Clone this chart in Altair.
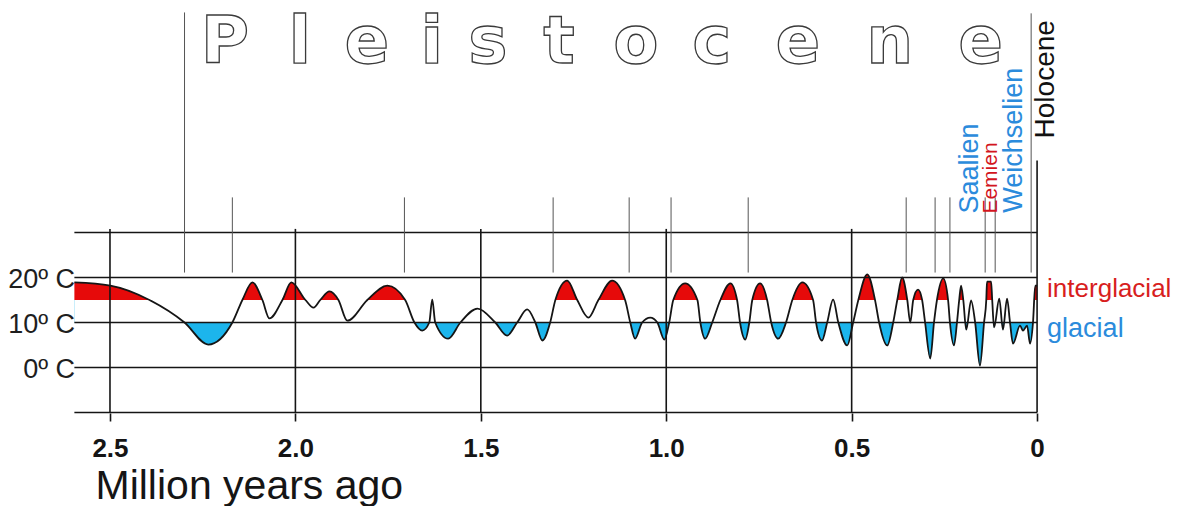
import altair as alt
import pandas as pd

# ---- data (age in million years, temperature in deg C) ----
ages = [2.596, 2.499, 2.391, 2.299, 2.235, 2.170, 2.143, 2.116, 2.089, 2.070,
        2.035, 2.011, 1.973, 1.951, 1.933, 1.908, 1.884, 1.860, 1.806, 1.752,
        1.704, 1.679, 1.658, 1.639, 1.631, 1.623, 1.588, 1.555, 1.509, 1.461,
        1.429, 1.402, 1.375, 1.353, 1.334, 1.313, 1.299, 1.267, 1.240, 1.210,
        1.183, 1.146, 1.111, 1.097, 1.084, 1.065, 1.043, 1.024, 1.005, 0.992,
        0.981, 0.949, 0.916, 0.908, 0.895, 0.876, 0.854, 0.827, 0.809, 0.801,
        0.787, 0.776, 0.768, 0.747, 0.728, 0.717, 0.698, 0.677, 0.660, 0.633,
        0.604, 0.596, 0.580, 0.566, 0.550, 0.536, 0.512, 0.496, 0.482, 0.458,
        0.437, 0.426, 0.404, 0.388, 0.377, 0.364, 0.350, 0.342, 0.334, 0.321,
        0.310, 0.302, 0.288, 0.278, 0.270, 0.253, 0.240, 0.235, 0.224, 0.216,
        0.210, 0.205, 0.199, 0.191, 0.178, 0.167, 0.154, 0.143, 0.137, 0.135,
        0.124, 0.121, 0.116, 0.102, 0.092, 0.081, 0.073, 0.065, 0.046, 0.038,
        0.027, 0.019, 0.011, 0.005, 0.0]
temps = [18.9, 18.2, 14.9, 10.0, 5.1, 10.0, 15.0, 18.9, 15.0, 10.9,
         15.0, 18.9, 15.0, 13.3, 15.0, 16.9, 15.0, 10.4, 15.0, 18.2,
         15.0, 10.0, 8.2, 10.0, 15.1, 10.0, 6.4, 10.0, 13.1, 10.0,
         7.1, 10.0, 12.9, 10.0, 6.0, 10.0, 15.0, 19.3, 15.0, 11.1,
         15.0, 19.3, 15.0, 10.0, 6.4, 10.0, 11.1, 10.0, 6.2, 10.0,
         15.0, 18.7, 15.0, 10.0, 6.4, 10.0, 15.0, 18.7, 15.0, 10.0,
         6.2, 10.0, 15.0, 18.7, 15.0, 10.0, 6.4, 10.0, 15.0, 18.9,
         15.0, 10.0, 6.0, 10.0, 15.1, 10.0, 4.9, 10.0, 15.0, 20.7,
         15.0, 10.0, 4.9, 10.0, 15.0, 20.0, 15.0, 10.0, 15.0, 17.3,
         15.0, 10.0, 2.0, 10.0, 15.0, 19.8, 15.0, 10.0, 4.9, 10.0,
         15.0, 18.2, 15.0, 8.4, 14.9, 10.0, 0.4, 10.0, 15.0, 19.1,
         19.1, 15.0, 8.9, 15.3, 8.4, 15.3, 10.0, 5.3, 9.3, 8.2,
         9.3, 5.3, 10.0, 18.2, 18.2]

interglacial_level = 15
glacial_level = 10

grid_ages = [2.5, 2.0, 1.5, 1.0, 0.5, 0.0]
grid_tops = [30.8, 30.8, 30.8, 30.8, 30.8, 46.0]
temp_lines_top = [30, 20]
temp_lines_bottom = [10, 0, -10]
temp_label_values = [20, 10, 0]
temp_label_texts = ["20º C", "10º C", "0º C"]

stage_ages = [2.299, 2.170, 1.706, 1.305, 1.100, 0.987, 0.779, 0.353,
              0.275, 0.235, 0.140, 0.113, 0.016]
stage_tops = [78.9, 37.8, 37.8, 37.8, 37.8, 37.8, 37.8, 37.8,
              37.8, 37.8, 37.8, 37.8, 78.7]
stage_bottom = 21.1

stage_names = ["Saalien", "Eemien", "Weichselien", "Holocene"]
stage_name_ages = [0.159, 0.108, 0.0405, -0.046]
stage_name_temps = [34.2, 34.2, 34.4, 50.9]
stage_name_colors = ["#2b8bdc", "#d21420", "#2b8bdc", "#111111"]
stage_name_sizes = [27, 21, 27, 28]

title_letters = list("Pleistocene")
title_letter_ages = [2.190, 1.988, 1.807, 1.632, 1.481, 1.289, 1.082,
                     0.877, 0.645, 0.397, 0.152]
title_temp = 67.6

tick_ages = [2.5, 2.0, 1.5, 1.0, 0.5, 0.0]

RED = "#e60a0a"
BLUE = "#1cb5ec"
INK = "#151515"
FONT = "Liberation Sans"

# ---- tables ----
curve = pd.DataFrame({"a": [-v for v in ages], "t": temps})
curve["b15"] = interglacial_level
curve["b10"] = glacial_level

x0, x1 = -ages[0], 0.0
hl_top = pd.DataFrame({"t": temp_lines_top, "a0": x0, "a1": x1})
hl_bot = pd.DataFrame({"t": temp_lines_bottom, "a0": x0, "a1": x1})
vg_top = pd.DataFrame({"a": [-v for v in grid_ages], "top": grid_tops, "bot": 15})
vg_bot = pd.DataFrame({"a": [-v for v in grid_ages], "top": 15, "bot": -10})
stages = pd.DataFrame({"a": [-v for v in stage_ages], "top": stage_tops, "bot": stage_bottom})
names = pd.DataFrame({"a": [-v for v in stage_name_ages], "t": stage_name_temps,
                      "label": stage_names, "col": stage_name_colors, "fs": stage_name_sizes})
title_df = pd.DataFrame({"a": [-v for v in title_letter_ages], "t": title_temp,
                         "label": title_letters})
tl = pd.DataFrame({"a": -2.594, "t": temp_label_values, "label": temp_label_texts})
white_band = pd.DataFrame({"a0": [x0], "a1": [x1], "t0": [10], "t1": [16]})
ig = pd.DataFrame({"a": [0.027], "t": [15.6], "label": ["interglacial"]})
gl = pd.DataFrame({"a": [0.027], "t": [6.7], "label": ["glacial"]})

TOP_H = 292
BOT_H = 113
PX_PER_DEG = 4.5
XS = alt.Scale(domain=[-2.775, 0.38], nice=False, zero=False)
YT = alt.Scale(domain=[15, 15 + TOP_H / PX_PER_DEG], nice=False, zero=False)
YB = alt.Scale(domain=[15 - BOT_H / PX_PER_DEG, 15], nice=False, zero=False)

AX = alt.Axis(values=[-v for v in tick_ages],
              labelExpr="datum.value == 0 ? '0' : format(-datum.value, '.1f')",
              domain=False, grid=False, ticks=True, tickSize=8, tickWidth=1.6,
              tickColor=INK, labelFont=FONT, labelFontSize=26, labelFontWeight="bold",
              labelColor=INK, labelPadding=14, labelFlush=False, labelOverlap=False,
              title="Million years ago", titleFont=FONT, titleFontSize=41,
              titleFontWeight="normal", titleColor=INK, titleX=87, titleY=85,
              titleAlign="left", titleBaseline="alphabetic", titleAnchor="start")


def xt(f):
    return alt.X(f, type="quantitative", scale=XS, axis=None)


def xb(f):
    return alt.X(f, type="quantitative", scale=XS, axis=AX)


def yt(f):
    return alt.Y(f, type="quantitative", scale=YT, axis=None)


def yb(f):
    return alt.Y(f, type="quantitative", scale=YB, axis=None)


# ---- top panel (15 deg and above) ----
red_area = alt.Chart(curve).mark_area(color=RED, interpolate="monotone", clip=True).encode(
    x=xt("a"), y=yt("t"), y2="b15:Q")
top_h = alt.Chart(hl_top).mark_rule(color=INK, strokeWidth=1.6).encode(
    x=xt("a0"), x2="a1:Q", y=yt("t"))
top_v = alt.Chart(vg_top).mark_rule(color=INK, strokeWidth=1.6).encode(
    x=xt("a"), y=yt("top"), y2="bot:Q")
stage_lines = alt.Chart(stages).mark_rule(color="#555555", strokeWidth=1).encode(
    x=xt("a"), y=yt("top"), y2="bot:Q")
top_line = alt.Chart(curve).mark_line(color=INK, strokeWidth=1.8, interpolate="monotone",
                                      clip=True).encode(x=xt("a"), y=yt("t"))
title_text = alt.Chart(title_df).mark_text(
    font="DejaVu Sans", fontSize=66, fontWeight="bold", align="center",
    baseline="alphabetic", fill="white", stroke="#3a3a3a", strokeWidth=1.3).encode(
    x=xt("a"), y=yt("t"), text="label:N")
name_text = alt.Chart(names).mark_text(
    font=FONT, angle=270, align="left", baseline="alphabetic").encode(
    x=xt("a"), y=yt("t"), text="label:N",
    color=alt.Color("col:N", scale=None), size=alt.Size("fs:Q", scale=None))
tl_top = alt.Chart(tl[tl.t == 20]).mark_text(
    font=FONT, fontSize=27, align="right", baseline="middle", dy=2, color="#1e1e1e").encode(
    x=xt("a"), y=yt("t"), text="label:N")
ig_text = alt.Chart(ig).mark_text(
    font=FONT, fontSize=26, align="left", baseline="alphabetic", color="#d81e1e").encode(
    x=xt("a"), y=yt("t"), text="label:N")

top = alt.layer(red_area, top_h, top_v, stage_lines, top_line, title_text,
                name_text, tl_top, ig_text).properties(width=1170, height=TOP_H)

# ---- bottom panel (below 15 deg) ----
blue_area = alt.Chart(curve).mark_area(color=BLUE, interpolate="monotone", clip=True).encode(
    x=xb("a"), y=yb("t"), y2="b10:Q")
band = alt.Chart(white_band).mark_rect(color="white", clip=True).encode(
    x=xb("a0"), x2="a1:Q", y=yb("t0"), y2="t1:Q")
bot_h = alt.Chart(hl_bot).mark_rule(color=INK, strokeWidth=1.6).encode(
    x=xb("a0"), x2="a1:Q", y=yb("t"))
bot_v = alt.Chart(vg_bot).mark_rule(color=INK, strokeWidth=1.6).encode(
    x=xb("a"), y=yb("top"), y2="bot:Q")
bot_line = alt.Chart(curve).mark_line(color=INK, strokeWidth=1.8, interpolate="monotone",
                                      clip=True).encode(x=xb("a"), y=yb("t"))
tl_bot = alt.Chart(tl[tl.t < 20]).mark_text(
    font=FONT, fontSize=27, align="right", baseline="middle", dy=2, color="#1e1e1e").encode(
    x=xb("a"), y=yb("t"), text="label:N")
gl_text = alt.Chart(gl).mark_text(
    font=FONT, fontSize=27, align="left", baseline="alphabetic", color="#2b8bdc").encode(
    x=xb("a"), y=yb("t"), text="label:N")

bottom = alt.layer(blue_area, band, bot_h, bot_v, bot_line, tl_bot, gl_text).properties(
    width=1170, height=BOT_H)

chart = alt.vconcat(top, bottom, spacing=0, bounds="flush").properties(
    padding=0, background="white").configure_view(stroke=None)

chart.save("out.html", embed_options={"renderer": "svg", "actions": False})
